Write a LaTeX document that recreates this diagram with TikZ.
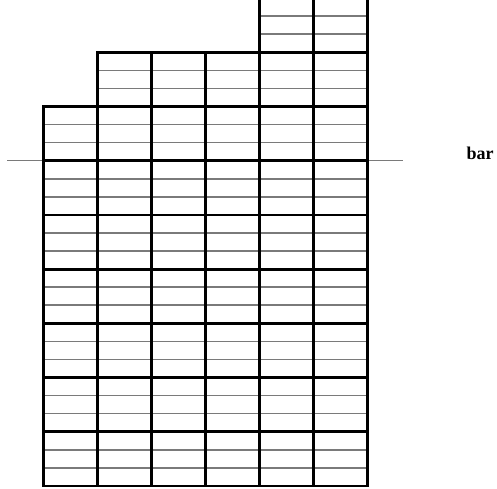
\documentclass[tikz,border=0pt]{standalone}
\usepackage{fontspec}
\setmainfont{Liberation Serif}
\begin{document}
\begin{tikzpicture}[x=1pt,y=-1pt,
  subline/.style={draw=black!52, line width=1.5pt},
  blockline/.style={draw=black, line width=2.8pt},
  barline/.style={draw=black!52, line width=1.5pt},
  barlabel/.style={font=\bfseries\fontsize{18}{20}\selectfont, anchor=base, inner sep=0pt}]
\useasboundingbox (0,0) rectangle (497,488);
\clip (0,0) rectangle (497,488);
% thin sub-rows
\foreach \c/\t in {0/1,1/0,2/0,3/0,4/-1,5/-1}{
  \foreach \k in {\t,...,7}{
    \draw[subline] ({43.3+54*\c},{52.3+54.2*(\k+1/3)}) -- ++(54,0);
    \draw[subline] ({43.3+54*\c},{52.3+54.2*(\k+2/3)}) -- ++(54,0);
  }
}
% bar line
\coordinate (barL) at (7,160.7);
\coordinate (barR) at (403,160.7);
\draw[barline] (barL) -- (barR);
% thick blocks
\foreach \c/\t in {0/1,1/0,2/0,3/0,4/-1,5/-1}{
  \foreach \k in {\t,...,7}{
    \draw[blockline] ({43.3+54*\c},{52.3+54.2*\k}) rectangle ++(54,54.2);
  }
}
\node[barlabel] (bar) at (480,159.5) {bar};
\end{tikzpicture}
\end{document}
